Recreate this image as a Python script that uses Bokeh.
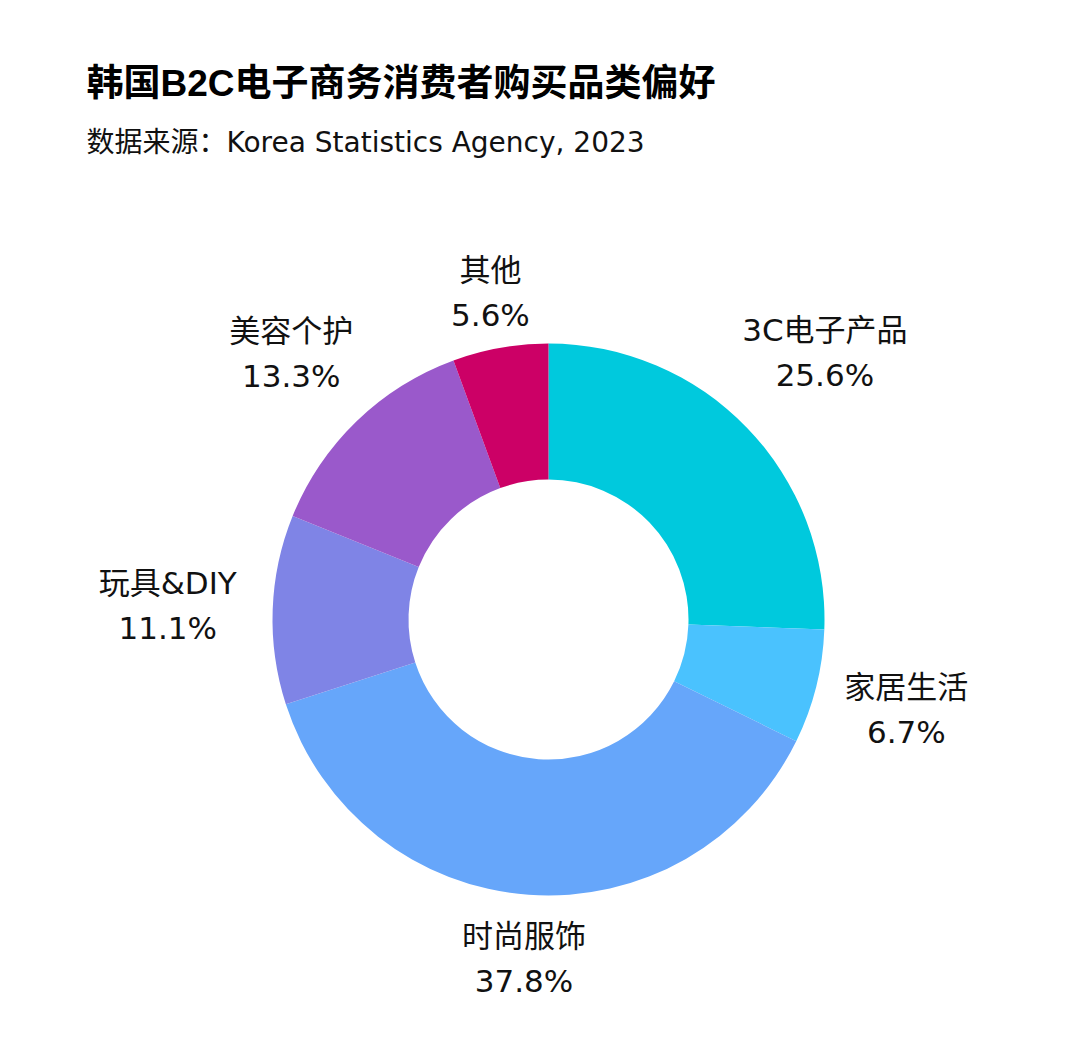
import math
from bokeh.plotting import figure
from bokeh.models import Range1d
from bokeh.core.properties import value
from bokeh.embed import file_html
from bokeh.resources import INLINE

# ---- data ----
categories = ["3C电子产品", "家居生活", "时尚服饰", "玩具&DIY", "美容个护", "其他"]
shares = [25.6, 6.7, 37.8, 11.1, 13.3, 5.6]
colors = ["#00C9DD", "#4AC2FE", "#66A6FA", "#7F84E6", "#9A59CB", "#CC0066"]

title = "韩国B2C电子商务消费者购买品类偏好"
subtitle = "数据来源：Korea Statistics Agency, 2023"

# ---- layout ----
W, H = 1080, 1054
cx, cy = 548, H - 619
r_out, r_in = 276, 140
label_r = [384, 369, 340, 381, 370, 332]
line_gap = 45
font = "'DejaVu Sans', 'Noto Sans CJK SC', sans-serif"
title_font = "'Liberation Sans', 'Noto Sans CJK SC', sans-serif"

p = figure(width=W, height=H, output_backend="svg", toolbar_location=None,
           x_range=Range1d(0, W), y_range=Range1d(0, H), min_border=0)
p.axis.visible = False
p.grid.visible = False
p.outline_line_color = None
p.background_fill_color = "white"
p.border_fill_color = "white"

total = sum(shares)
start = math.pi / 2
starts, ends, mids = [], [], []
for s in shares:
    sweep = 2 * math.pi * s / total
    starts.append(start)
    ends.append(start - sweep)
    mids.append(start - sweep / 2)
    start -= sweep

p.annular_wedge(x=[cx] * len(shares), y=[cy] * len(shares), inner_radius=r_in, outer_radius=r_out,
                start_angle=ends, end_angle=starts, color=colors, line_color=None)

# labels
lx, ly1, ly2, t1, t2 = [], [], [], [], []
for cat, s, m, r in zip(categories, shares, mids, label_r):
    x = cx + r * math.cos(m)
    y = cy + r * math.sin(m)
    lx.append(x)
    ly1.append(y + line_gap / 2)
    ly2.append(y - line_gap / 2)
    t1.append(cat)
    t2.append(f"{s:.1f}%")

p.text(x=lx, y=ly1, text=t1, text_align="center", text_baseline="middle",
       text_font=value(font), text_font_size="31px", text_color="#111111")
p.text(x=lx, y=ly2, text=t2, text_align="center", text_baseline="middle",
       text_font=value(font), text_font_size="31px", text_color="#111111")

# title & subtitle
p.text(x=[86], y=[H - 83], text=[title], text_align="left", text_baseline="middle",
       text_font=value(title_font), text_font_size="37px", text_font_style="bold", text_color="#000000")
p.text(x=[86], y=[H - 142], text=[subtitle], text_align="left", text_baseline="middle",
       text_font=value(font), text_font_size="28px", text_color="#111111")

open("out.html", "w").write(file_html(p, INLINE))
